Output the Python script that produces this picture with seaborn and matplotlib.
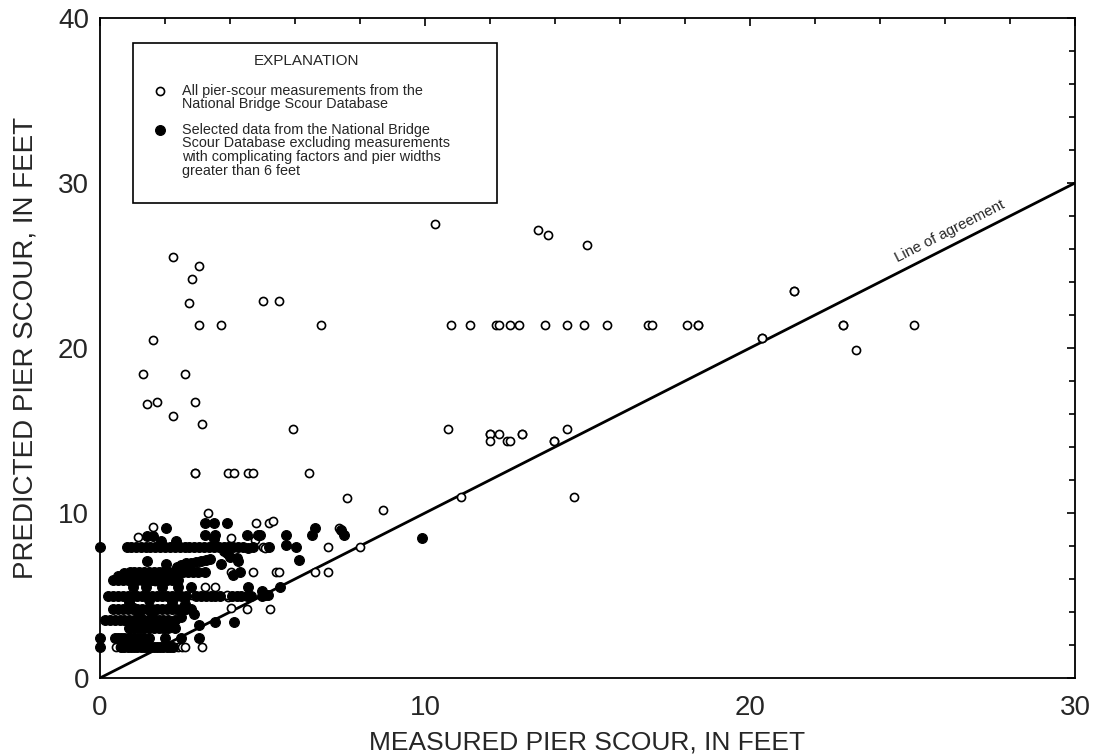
import math
import matplotlib
matplotlib.use("Agg")
import matplotlib.pyplot as plt
import seaborn as sns
import pandas as pd
from matplotlib.patches import Rectangle

# ---------------- data ----------------
# open circles: all pier-scour measurements (those not hidden by selected data)
open_upper = [
    (2.24, 25.5), (3.04, 24.95), (2.84, 24.2), (2.73, 22.7), (3.04, 21.4), (3.72, 21.4),
    (6.81, 21.4), (5.03, 22.85), (5.52, 22.85), (1.63, 20.5), (1.33, 18.4), (2.63, 18.4),
    (1.44, 16.6), (1.74, 16.75), (2.93, 16.75), (2.24, 15.85), (3.14, 15.4), (5.93, 15.1),
    (10.3, 27.5), (13.49, 27.15), (13.79, 26.85), (14.99, 26.25),
]
open_row_21 = [
    (10.8, 21.4), (11.39, 21.4), (12.19, 21.4), (12.27, 21.4), (12.6, 21.4), (12.89, 21.4),
    (13.69, 21.4), (14.38, 21.4), (14.88, 21.4), (15.59, 21.4), (16.87, 21.4), (16.99, 21.4),
    (18.07, 21.4), (18.41, 21.4), (18.41, 21.4), (22.85, 21.4), (22.85, 21.4), (25.05, 21.4),
]
open_right = [
    (21.36, 23.45), (21.36, 23.45), (20.37, 20.6), (20.37, 20.6), (23.25, 19.85),
    (10.7, 15.1), (11.99, 14.8), (11.99, 14.8), (11.99, 14.35), (12.29, 14.8), (12.51, 14.35),
    (12.62, 14.35), (12.99, 14.8), (12.99, 14.8), (13.98, 14.35), (13.98, 14.35), (14.38, 15.1),
    (11.1, 10.97), (14.58, 10.97), (8.71, 10.2), (7.61, 10.9), (8.0, 7.92), (7.03, 6.45),
    (6.62, 6.45), (6.42, 12.4),
]
open_lower = [
    (2.92, 12.4), (2.92, 12.4), (3.95, 12.4), (4.13, 12.4), (4.54, 12.4), (4.72, 12.4),
    (3.32, 10.0), (1.63, 9.15), (4.8, 9.37), (5.2, 9.37), (5.32, 9.53), (7.35, 9.1),
    (5.03, 7.92), (5.13, 7.92), (7.03, 7.92), (4.03, 8.47), (4.77, 8.36), (5.08, 7.9),
    (5.42, 6.41), (5.52, 6.41), (4.03, 6.44), (4.72, 6.44), (3.54, 5.53), (3.23, 5.54),
    (3.95, 4.93), (4.03, 4.22), (4.51, 4.18), (5.23, 4.2), (2.82, 5.03), (3.9, 5.03),
    (1.16, 8.56), (0.5, 1.9), (0.6, 1.9), (0.7, 1.9), (2.41, 1.9), (2.53, 1.9), (2.62, 1.9),
    (3.13, 1.9), (1.0, 4.3), (1.7, 5.9), (1.3, 3.5),
]

# filled circles: selected data
filled_rows_low = [
    (0.0, 1.9), (0.65, 1.9), (0.75, 1.9), (0.85, 1.9), (0.95, 1.9), (1.05, 1.9), (1.15, 1.9),
    (1.25, 1.9), (1.35, 1.9), (1.45, 1.9), (1.55, 1.9), (1.65, 1.9), (1.75, 1.9), (1.85, 1.9),
    (1.95, 1.9), (2.05, 1.9), (2.15, 1.9), (2.25, 1.9),
    (0.0, 2.45), (0.45, 2.45), (0.55, 2.45), (0.65, 2.45), (0.75, 2.45), (0.85, 2.45),
    (0.95, 2.45), (1.05, 2.45), (1.15, 2.45), (1.25, 2.45), (1.35, 2.45), (1.5, 2.45),
    (2.0, 2.45), (2.5, 2.45), (3.05, 2.45),
    (0.9, 3.05), (1.05, 3.05), (1.2, 3.05), (1.35, 3.05), (1.5, 3.05), (1.65, 3.05),
    (1.8, 3.05), (1.95, 3.05), (2.1, 3.05), (2.3, 3.05), (3.05, 3.2),
    (0.15, 3.5), (0.3, 3.5), (0.45, 3.5), (0.6, 3.5), (0.75, 3.5), (0.9, 3.5), (1.05, 3.5),
    (1.2, 3.5), (1.35, 3.5), (1.5, 3.5), (1.65, 3.5), (1.8, 3.5), (1.95, 3.5), (2.1, 3.5),
    (2.3, 3.5), (3.54, 3.41), (4.13, 3.41),
    (1.2, 3.8), (1.6, 3.9), (2.5, 3.7), (2.9, 3.9),
    (0.4, 4.2), (0.55, 4.2), (0.7, 4.2), (0.85, 4.2), (1.0, 4.2), (1.15, 4.2), (1.3, 4.2),
    (1.45, 4.2), (1.6, 4.2), (1.75, 4.2), (1.9, 4.2), (2.05, 4.2), (2.2, 4.2), (2.35, 4.2),
    (2.5, 4.2), (2.65, 4.2), (2.8, 4.2),
    (0.9, 4.6), (1.5, 4.7), (2.2, 4.6), (2.6, 4.5),
]
filled_rows_mid = [
    (0.25, 5.0), (0.4, 5.0), (0.55, 5.0), (0.7, 5.0), (0.85, 5.0), (1.0, 5.0), (1.15, 5.0),
    (1.3, 5.0), (1.45, 5.0), (1.6, 5.0), (1.75, 5.0), (1.9, 5.0), (2.05, 5.0), (2.2, 5.0),
    (2.35, 5.0), (2.5, 5.0), (2.65, 5.0), (2.95, 5.0), (3.1, 5.0), (3.25, 5.0), (3.4, 5.0),
    (3.54, 4.95), (3.7, 4.95), (4.05, 4.95), (4.2, 4.95), (4.35, 4.95), (4.51, 4.95),
    (4.65, 4.95), (4.97, 4.95), (5.08, 5.05), (5.18, 5.05), (4.97, 5.27),
    (1.0, 5.5), (1.4, 5.5), (1.9, 5.5), (2.4, 5.5), (2.8, 5.5), (4.56, 5.53), (5.54, 5.53),
    (0.4, 5.94), (0.55, 5.94), (0.7, 5.94), (0.85, 5.94), (1.0, 5.94), (1.15, 5.94),
    (1.3, 5.94), (1.45, 5.94), (1.6, 5.94), (1.75, 5.94), (1.9, 5.94), (2.05, 5.94),
    (2.2, 5.94), (2.4, 5.94), (0.55, 6.2), (0.75, 6.35),
    (0.92, 6.44), (1.05, 6.44), (1.2, 6.44), (1.35, 6.44), (1.5, 6.44), (1.65, 6.44),
    (1.8, 6.44), (1.95, 6.44), (2.1, 6.44), (2.25, 6.44), (2.4, 6.44), (2.55, 6.44),
    (2.7, 6.44), (2.85, 6.44), (3.0, 6.44), (3.23, 6.44), (4.31, 6.44), (4.1, 6.24),
]
filled_rows_high = [
    (1.44, 7.1), (2.03, 6.9), (2.36, 6.75), (2.5, 6.85), (2.65, 6.95), (2.8, 7.0),
    (2.95, 7.05), (3.1, 7.1), (3.25, 7.15), (3.38, 7.2), (3.72, 6.89), (4.26, 7.1),
    (6.12, 7.15),
    (0.0, 7.96), (0.82, 7.96), (0.95, 7.96), (1.1, 7.96), (1.25, 7.96), (1.4, 7.96),
    (1.55, 7.96), (1.7, 7.96), (1.85, 7.96), (2.0, 7.96), (2.15, 7.96), (2.3, 7.96),
    (2.45, 7.96), (2.6, 7.96), (2.75, 7.96), (2.9, 7.96), (3.05, 7.96), (3.2, 7.96),
    (3.35, 7.96), (3.5, 7.96), (3.65, 7.96), (3.8, 7.96), (3.95, 7.96), (4.1, 7.96),
    (4.25, 7.96), (4.4, 7.96), (4.56, 7.9), (4.7, 7.96), (5.2, 7.96), (5.71, 8.06),
    (6.02, 7.92),
    (1.44, 8.6), (1.64, 8.6), (1.87, 8.3), (2.03, 9.1), (2.34, 8.3), (3.23, 9.4),
    (3.51, 9.4), (3.92, 9.4), (3.23, 8.67), (3.51, 8.4), (3.54, 8.67), (4.53, 8.67),
    (4.87, 8.67), (4.92, 8.67), (5.71, 8.67), (6.51, 8.67), (6.62, 9.11), (7.42, 8.97),
    (7.52, 8.67), (9.9, 8.5), (3.92, 7.6), (4.0, 7.35), (4.2, 7.25), (3.8, 7.7),
]

agreement_x = [0, 30]
agreement_y = [0, 30]

x_ticks = [0, 10, 20, 30]
y_ticks = [0, 10, 20, 30, 40]

legend_title = "EXPLANATION"
legend_open_lines = ["All pier-scour measurements from the", "National Bridge Scour Database"]
legend_filled_lines = ["Selected data from the National Bridge",
                       "Scour Database excluding measurements",
                       "with complicating factors and pier widths",
                       "greater than 6 feet"]

# ---------------- figure ----------------
sns.set_theme(style="white")
plt.rcParams['font.family'] = ['Liberation Sans', 'DejaVu Sans']

fig = plt.figure(figsize=(10.95, 7.55), dpi=100)
ax = fig.add_axes([100 / 1095, 1 - 678 / 755, 975 / 1095, 660 / 755])

df_open = pd.DataFrame(open_upper + open_row_21 + open_right + open_lower,
                       columns=["measured", "predicted"])
df_fill = pd.DataFrame(filled_rows_low + filled_rows_mid + filled_rows_high,
                       columns=["measured", "predicted"])

sns.lineplot(x=agreement_x, y=agreement_y, color="black", linewidth=2.0, ax=ax, zorder=2)
sns.scatterplot(data=df_open, x="measured", y="predicted", marker="o", s=34,
                color="white", edgecolor="black", linewidth=1.2, ax=ax, zorder=3,
                clip_on=False)
sns.scatterplot(data=df_fill, x="measured", y="predicted", marker="o", s=50,
                color="black", edgecolor="black", linewidth=0.8, ax=ax, zorder=4,
                clip_on=False)

ax.set_xlim(0, 30)
ax.set_ylim(0, 40)
ax.set_xticks(x_ticks)
ax.set_yticks(y_ticks)
ax.set_xticks([v for v in range(0, 31, 2)], minor=True)
ax.set_yticks([v for v in range(0, 41, 2)], minor=True)
ax.tick_params(which="both", direction="in", top=True, right=True, color="black",
               width=1.2)
ax.tick_params(which="major", length=6, labelsize=20)
ax.tick_params(which="minor", length=4)
ax.tick_params(axis="x", which="major", pad=12)
ax.tick_params(axis="y", which="major", pad=8)
ax.tick_params(top=True, right=True, labeltop=False, labelright=False)
for sp in ax.spines.values():
    sp.set_color("black")
    sp.set_linewidth(1.3)

ax.set_xlabel("MEASURED PIER SCOUR, IN FEET", fontsize=19, labelpad=7)
ax.set_ylabel("PREDICTED PIER SCOUR, IN FEET", fontsize=20, labelpad=14)

# line label
p1 = ax.transData.transform((0, 0))
p2 = ax.transData.transform((30, 30))
ang = math.degrees(math.atan2(p2[1] - p1[1], p2[0] - p1[0]))
ax.text(26.15, 27.05, "Line of agreement", rotation=ang, rotation_mode="anchor",
        ha="center", va="center", fontsize=10.8, zorder=5)

# legend box (explanation)
ax.add_patch(Rectangle((1.02, 28.79), 11.2, 9.68, facecolor="white", edgecolor="black",
                       linewidth=1.2, zorder=6))
ax.text(6.36, 37.39, legend_title, ha="center", va="center", fontsize=11, zorder=7)
ax.scatter([1.85], [35.58], s=34, facecolor="white", edgecolor="black", linewidth=1.2,
           zorder=7)
ax.scatter([1.85], [33.21], s=50, facecolor="black", edgecolor="black", linewidth=0.8,
           zorder=7)
for yy, line in zip([35.58, 34.79], legend_open_lines):
    ax.text(2.51, yy, line, ha="left", va="center", fontsize=10.4, zorder=7)
for yy, line in zip([33.21, 32.41, 31.56, 30.73], legend_filled_lines):
    ax.text(2.51, yy, line, ha="left", va="center", fontsize=10.4, zorder=7)

fig.savefig("out.png", dpi=100)
